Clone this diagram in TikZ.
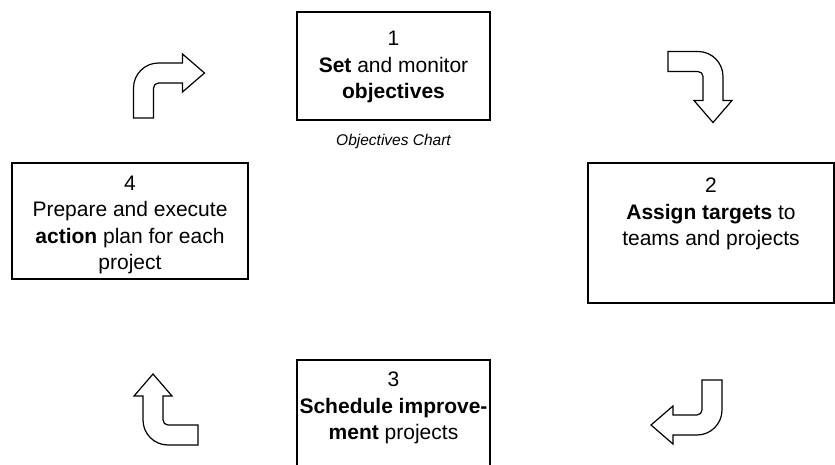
\documentclass[tikz,border=0pt]{standalone}
\usepackage{fontspec}
\setmainfont{Liberation Sans}
\usetikzlibrary{positioning}

\tikzset{
	frame/.style={draw, line width=1.3pt, inner sep=0pt},
	steptext/.style={align=center, inner sep=0pt, font=\fontsize{21}{26.5}\selectfont},
	captext/.style={inner sep=0pt, font=\fontsize{15.5}{18}\selectfont\itshape},
	bentarrow/.pic={
		\draw[line width=1.2pt, fill=white, line join=miter]
			(-35,-32) -- (-35,-2) arc[start angle=180, end angle=90, radius=25]
			-- (14,23) -- (14,32) -- (36,13) -- (14,-6) -- (14,3)
			-- (-10,3) arc[start angle=90, end angle=180, radius=5]
			-- (-15,-32) -- cycle;
	}
}

\begin{document}
\begin{tikzpicture}[x=1pt, y=1pt]
	\useasboundingbox (0,0) rectangle (835,-464);
	% boxes
	\node[frame, minimum width=193, minimum height=108] (f1) at (393.5,-66) {};
	\node[frame, minimum width=246, minimum height=140] (f2) at (711,-233) {};
	\node[frame, minimum width=193, minimum height=120] (f3) at (393.5,-420) {};
	\node[frame, minimum width=236, minimum height=116] (f4) at (130,-221) {};
	% texts
	\node[steptext] (t1) at (393.5,-67) {1\\\textbf{Set} and monitor\\\textbf{objectives}};
	\node[captext] (cap) at (393.5,-141) {Objectives Chart};
	\node[steptext] (t2) at (711,-214) {2\\\textbf{Assign targets} to\\teams and projects};
	\node[steptext] (t3) at (393.5,-408) {3\\\textbf{Schedule improve-}\\\textbf{ment} projects};
	\node[steptext] (t4) at (130,-225) {4\\Prepare and execute\\\textbf{action} plan for each\\project};
	% bent arrows
	\pic at (168.5,-86) {bentarrow};
	\pic[rotate=-90] at (700,-86.5) {bentarrow};
	\pic[rotate=180] at (687,-412) {bentarrow};
	\pic[rotate=90] at (166,-410) {bentarrow};
\end{tikzpicture}
\end{document}
